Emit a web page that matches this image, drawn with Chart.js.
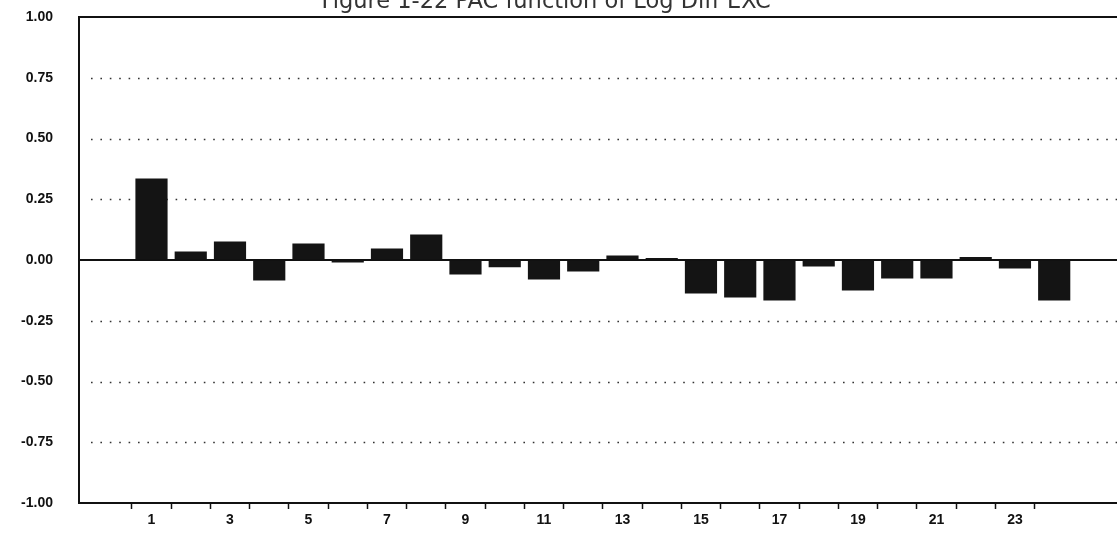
<!DOCTYPE html>
<html><head><meta charset="utf-8">
<script src="https://cdn.jsdelivr.net/npm/chart.js@4"></script>
<style>html,body{margin:0;padding:0;background:#fff;overflow:hidden}#wrap{width:1117px;height:540px;position:relative}</style>
</head><body><div id="wrap"><canvas id="c" width="1117" height="540"></canvas></div>
<script>
const chartTitle = 'Figure 1-22 PAC function of Log Diff EXC';
const lags = [1,2,3,4,5,6,7,8,9,10,11,12,13,14,15,16,17,18,19,20,21,22,23,24];
const pacValues = [0.335,0.035,0.076,-0.084,0.068,-0.01,0.047,0.105,-0.06,-0.03,-0.08,-0.047,0.019,0.008,-0.138,-0.154,-0.167,-0.027,-0.125,-0.076,-0.076,0.012,-0.035,-0.167];
const xTickLabelLags = [1,3,5,7,9,11,13,15,17,19,21,23];
const xTickLabels = ['1','3','5','7','9','11','13','15','17','19','21','23'];
const xTickMarks = [0.5,1.5,2.5,3.5,4.5,5.5,6.5,7.5,8.5,9.5,10.5,11.5,12.5,13.5,14.5,15.5,16.5,17.5,18.5,19.5,20.5,21.5,22.5,23.5];
const yTickValues = [-1,-0.75,-0.5,-0.25,0,0.25,0.5,0.75,1];
const yTickLabels = ['-1.00','-0.75','-0.50','-0.25','0.00','0.25','0.50','0.75','1.00'];
const dottedGridValues = [-0.75,-0.5,-0.25,0.25,0.5,0.75];

const framePlugin = {
  id: 'frame',
  beforeDatasetsDraw(chart) {
    const {ctx, chartArea: a, scales: {y}} = chart;
    ctx.save();
    ctx.strokeStyle = '#333';
    ctx.lineWidth = 1.6;
    ctx.setLineDash([1.6, 7.8]);
    dottedGridValues.forEach(v => {
      const py = Math.round(y.getPixelForValue(v)) + 0.5;
      ctx.beginPath(); ctx.moveTo(a.left + 12, py); ctx.lineTo(a.right, py); ctx.stroke();
    });
    ctx.restore();
  },
  afterDatasetsDraw(chart) {
    const {ctx, chartArea: a, scales: {y}} = chart;
    ctx.save();
    ctx.strokeStyle = '#111';
    ctx.lineWidth = 2;
    [0, 1].forEach(v => {
      const py = Math.round(y.getPixelForValue(v));
      ctx.beginPath(); ctx.moveTo(a.left, py); ctx.lineTo(a.right, py); ctx.stroke();
    });
    ctx.restore();
  },
  afterDraw(chart) {
    const ctx = chart.ctx;
    ctx.save();
    ctx.font = '22.5px "DejaVu Sans"';
    ctx.fillStyle = '#333';
    ctx.textAlign = 'center';
    ctx.textBaseline = 'alphabetic';
    ctx.fillText(chartTitle, 546, 8);
    ctx.restore();
  }
};

new Chart(document.getElementById('c'), {
  type: 'bar',
  data: {
    datasets: [{
      data: lags.map((l, i) => ({x: l, y: pacValues[i]})),
      backgroundColor: '#141414',
      borderWidth: 0,
      // the half-lag tick marks halve the sample spacing Chart.js measures
      barPercentage: 1.64,
      categoryPercentage: 1.0
    }]
  },
  options: {
    responsive: false,
    animation: false,
    devicePixelRatio: 1,
    layout: {padding: {top: 17, left: 0, right: 0, bottom: 0}},
    plugins: {legend: {display: false}, tooltip: {enabled: false}, title: {display: false}},
    scales: {
      x: {
        type: 'linear',
        min: -0.847,
        max: 25.6,
        offset: false,
        afterBuildTicks(axis) {
          const vals = xTickMarks.concat(xTickLabelLags).sort((a, b) => a - b);
          axis.ticks = vals.map(v => ({value: v}));
        },
        afterFit(scale) { scale.height = 37; scale.paddingLeft = 0; scale.paddingRight = 0; },
        ticks: {
          autoSkip: false,
          maxRotation: 0,
          padding: 3,
          color: '#111',
          font: {family: '"Liberation Sans"', size: 14, weight: 'bold'},
          callback(value) {
            const i = xTickLabelLags.indexOf(value);
            return i >= 0 ? xTickLabels[i] : '';
          }
        },
        grid: {
          drawOnChartArea: false,
          offset: false,
          drawTicks: true,
          tickLength: 6,
          tickWidth: 1.5,
          tickColor: (c) => (c.tick && Number.isInteger(c.tick.value)) ? 'rgba(0,0,0,0)' : '#111'
        },
        border: {display: true, color: '#111', width: 2}
      },
      y: {
        min: -1,
        max: 1,
        afterBuildTicks(axis) { axis.ticks = yTickValues.map(v => ({value: v})); },
        afterFit(scale) { scale.width = 79; scale.paddingTop = 0; scale.paddingBottom = 0; },
        ticks: {
          autoSkip: false,
          padding: 26,
          color: '#111',
          font: {family: '"Liberation Sans"', size: 14, weight: 'bold'},
          callback(value) {
            const i = yTickValues.indexOf(value);
            return i >= 0 ? yTickLabels[i] : '';
          }
        },
        grid: {display: false, drawTicks: false},
        border: {display: true, color: '#111', width: 2}
      }
    }
  },
  plugins: [framePlugin]
});
</script>
</body></html>
